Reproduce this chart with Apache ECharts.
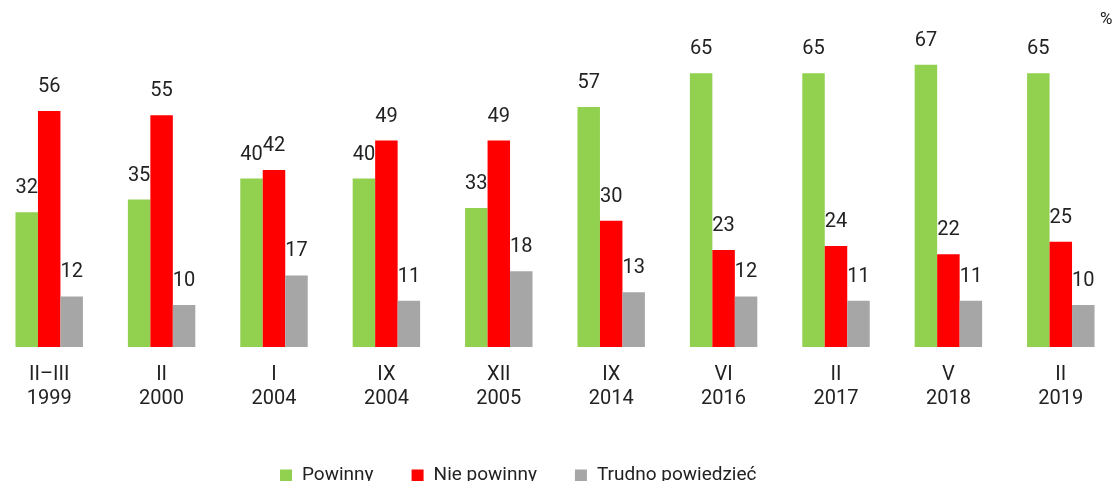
<!DOCTYPE html>
<html>
<head>
<meta charset="utf-8">
<script src="https://cdn.jsdelivr.net/npm/echarts@6/dist/echarts.min.js"></script>
<style>
  html, body { margin: 0; padding: 0; background: #fff; }
  #chart { width: 1115px; height: 481px; }
</style>
</head>
<body>
<div id="chart"></div>
<script>
const categories = ['II\u2013III\n1999', 'II\n2000', 'I\n2004', 'IX\n2004', 'XII\n2005', 'IX\n2014', 'VI\n2016', 'II\n2017', 'V\n2018', 'II\n2019']
const powinny = [32, 35, 40, 40, 33, 57, 65, 65, 67, 65]
const niePowinny = [56, 55, 42, 49, 49, 30, 23, 24, 22, 25]
const trudno = [12, 10, 17, 11, 18, 13, 12, 11, 11, 10]

const textColor = '#222'
const font = 'Roboto, sans-serif'

const makeSeries = (name, data, color) => ({
  name,
  type: 'bar',
  data,
  barWidth: '20%',
  barGap: '0%',
  itemStyle: { color },
  label: {
    show: true,
    position: 'top',
    distance: 14,
    color: textColor,
    fontFamily: font,
    fontSize: 20
  }
})

const chart = echarts.init(document.getElementById('chart'))
chart.setOption({
  animation: false,
  grid: { left: -7, width: 1124, top: 10, bottom: 134, outerBoundsMode: 'none' },
  graphic: [{
    type: 'text',
    left: 1100,
    top: 11,
    style: { text: '%', fill: textColor, font: '17px Roboto, sans-serif' }
  }],
  legend: {
    left: 275,
    top: 461,
    icon: 'rect',
    itemWidth: 12,
    itemHeight: 12,
    itemGap: 38,
    textStyle: { color: textColor, fontFamily: font, fontSize: 19, padding: [0, 0, 0, 5] }
  },
  xAxis: {
    type: 'category',
    data: categories,
    axisLine: { show: false },
    axisTick: { show: false },
    axisLabel: {
      color: textColor,
      fontFamily: font,
      fontSize: 20,
      lineHeight: 24,
      margin: 16
    }
  },
  yAxis: { type: 'value', min: 0, max: 80, show: false },
  series: [
    makeSeries('Powinny', powinny, '#92D050'),
    makeSeries('Nie powinny', niePowinny, '#FF0000'),
    makeSeries('Trudno powiedzieć', trudno, '#A6A6A6')
  ]
})
</script>
</body>
</html>
